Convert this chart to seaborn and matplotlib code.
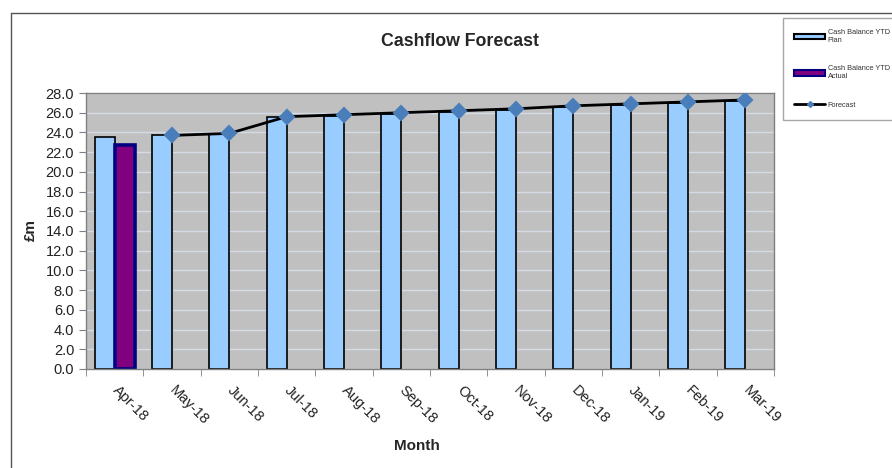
import numpy as np
import pandas as pd
import matplotlib.pyplot as plt
import seaborn as sns
from matplotlib.patches import Patch
from matplotlib.lines import Line2D
from matplotlib.ticker import FixedLocator, MultipleLocator, FormatStrFormatter

# Cash balance data (in £m)
months = ['Apr-18', 'May-18', 'Jun-18', 'Jul-18', 'Aug-18', 'Sep-18',
          'Oct-18', 'Nov-18', 'Dec-18', 'Jan-19', 'Feb-19', 'Mar-19']
plan = [23.5, 23.7, 23.8, 25.6, 25.7, 25.9, 26.1, 26.3, 26.6, 26.8, 27.0, 27.2]
actual = [22.7] + [np.nan] * 11
forecast = [np.nan, 23.7, 23.9, 25.6, 25.8, 26.0, 26.2, 26.4, 26.7, 26.9, 27.1, 27.3]

plan_name = 'Cash Balance YTD Plan'
actual_name = 'Cash Balance YTD Actual'

bars = pd.DataFrame({
    'Month': months * 2,
    'Series': [plan_name] * 12 + [actual_name] * 12,
    'Value': plan + actual,
})

sns.set_style('white')
plt.rcParams['font.family'] = ['Liberation Sans', 'DejaVu Sans']

fig = plt.figure(figsize=(8.92, 4.68), dpi=100)
ax = fig.add_axes([86 / 892, 1 - 369 / 468, 688 / 892, 276 / 468])
ax.set_facecolor('#c0c0c0')
ax.set_axisbelow(True)

sns.barplot(data=bars, x='Month', y='Value', hue='Series', order=months,
            hue_order=[plan_name, actual_name],
            palette={plan_name: '#99ccff', actual_name: '#800080'},
            saturation=1, width=0.7, gap=0, edgecolor='black', linewidth=1.2,
            errorbar=None, ax=ax)

# actual bars have a thick navy outline
for p in ax.containers[1]:
    p.set_edgecolor('#000080')
    p.set_linewidth(2.6)

sns.pointplot(x=months, y=forecast, order=months, color='black', markers='D',
              markersize=7, linewidth=2, errorbar=None, ax=ax)
for ln in ax.lines:
    if ln.get_marker() == 'D':
        ln.set_markerfacecolor('#4a7ebb')
        ln.set_markeredgecolor('#4a7ebb')
        ln.set_zorder(5)

if ax.legend_ is not None:
    ax.legend_.remove()

# axes styling
ax.set_ylim(0, 28)
ax.set_xlim(-0.5, 11.5)
ax.yaxis.set_major_locator(MultipleLocator(2))
ax.yaxis.set_major_formatter(FormatStrFormatter('%.1f'))
ax.yaxis.grid(True, color='#d5dbe6', linewidth=1)
ax.xaxis.grid(False)
for s in ax.spines.values():
    s.set_visible(True)
    s.set_color('#808080')
    s.set_linewidth(1)

ax.xaxis.set_minor_locator(FixedLocator(np.arange(-0.5, 12, 1)))
ax.tick_params(axis='x', which='major', length=0, pad=14, labelsize=10.5, labelcolor='#222222')
ax.tick_params(axis='x', which='minor', length=5, color='#808080', direction='out', bottom=True)
ax.tick_params(axis='y', length=5, color='#808080', direction='out', left=True,
               labelsize=10.5, labelcolor='#222222')
for lab in ax.get_xticklabels():
    lab.set_rotation(-45)
    lab.set_ha('left')
    lab.set_va('center')
    lab.set_rotation_mode('anchor')

ax.set_xlabel('Month', fontsize=11, fontweight='bold')
ax.set_ylabel('£m', fontsize=11, fontweight='bold')
ax.xaxis.set_label_coords(0.481, -0.252)
ax.yaxis.set_label_coords(-0.07, 0.505)

fig.text(460 / 892, 1 - 42 / 468, 'Cashflow Forecast', ha='center', va='center',
         fontsize=12.8, fontweight='bold')

# outer chart border (left and top)
fig.add_artist(Line2D([11 / 892, 11 / 892], [0, 1 - 13 / 468], color='#555555', lw=1))
fig.add_artist(Line2D([11 / 892, 1], [1 - 13 / 468, 1 - 13 / 468], color='#555555', lw=1))

handles = [
    Patch(facecolor='#99ccff', edgecolor='black', linewidth=1.5),
    Patch(facecolor='#800080', edgecolor='#000080', linewidth=1.5),
    Line2D([], [], color='black', lw=2, marker='D', markersize=3,
           markerfacecolor='#4a7ebb', markeredgecolor='#4a7ebb'),
]
labels = ['Cash Balance YTD\nPlan', 'Cash Balance YTD\nActual', 'Forecast']
leg = fig.legend(handles, labels, loc='upper left',
                 bbox_to_anchor=(783 / 892, 1 - 18 / 468), fontsize=5.3,
                 frameon=True, fancybox=False, edgecolor='#909090',
                 labelspacing=2.9, handlelength=4.2, handleheight=0.8,
                 handletextpad=0.35, borderpad=1.5, borderaxespad=0)
leg.get_frame().set_linewidth(1)
for t in leg.get_texts():
    t.set_color('#333333')

fig.savefig('out.png', dpi=100)
